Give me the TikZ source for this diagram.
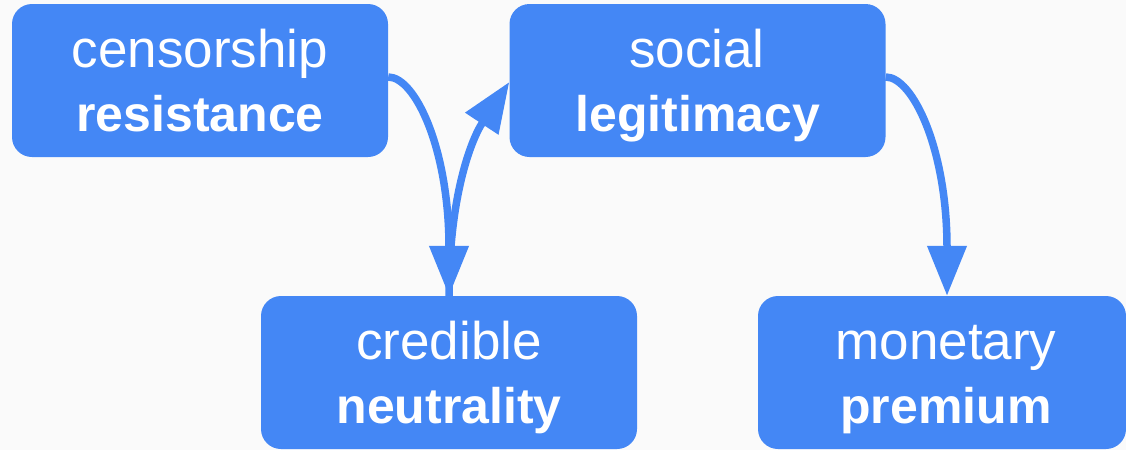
\documentclass[tikz,border=0pt]{standalone}
\usepackage{fontspec}
\setmainfont{Liberation Sans}
\usetikzlibrary{arrows.meta,calc}
\definecolor{boxblue}{HTML}{4487F5}
\definecolor{bgc}{HTML}{FAFAFA}
\begin{document}
\begin{tikzpicture}[x=1pt,y=-1pt,
 box/.style={fill=boxblue, rounded corners=20pt, minimum width=376pt, minimum height=153pt, inner sep=0pt},
 reg/.style={text=white, font=\fontsize{53}{60}\selectfont, anchor=base, inner sep=0pt},
 bld/.style={text=white, font=\fontsize{50}{60}\selectfont\bfseries, anchor=base, inner sep=0pt},
 link/.style={draw=boxblue, line width=7.5pt, -{Triangle[length=50pt,width=38pt]}}
]
\fill[bgc] (0,0) rectangle (1126,450);
\useasboundingbox (0,0) rectangle (1126,450);
\node[box] (cr) at (200,80.5) {};
\node[box] (sl) at (697.5,80.5) {};
\node[box] (cn) at (449,372.5) {};
\node[box, minimum width=368pt] (mp) at (942,372.5) {};
\node[reg] (crA) at (200,67) {censorship};
\node[bld] (crB) at (200,131) {resistance};
\node[reg] (slA) at (697,67) {social};
\node[bld] (slB) at (698,131) {legitimacy};
\node[reg] (cnA) at (449,359) {credible};
\node[bld] (cnB) at (449,423) {neutrality};
\node[reg] (mpA) at (946,359) {monetary};
\node[bld] (mpB) at (946,423) {premium};
\draw[link] ($(cr.east)+(0,-3.5)$) .. controls +(27,0) and +(0,-147) .. (cn.north);
\draw[link] (cn.north) .. controls +(0,-97) and +(-39,59) .. ($(sl.west)+(0,1.5)$);
\draw[link] ($(sl.east)+(0,-3.5)$) .. controls +(27,0) and +(0,-147) .. ($(mp.north)+(5,0)$);
\end{tikzpicture}
\end{document}
